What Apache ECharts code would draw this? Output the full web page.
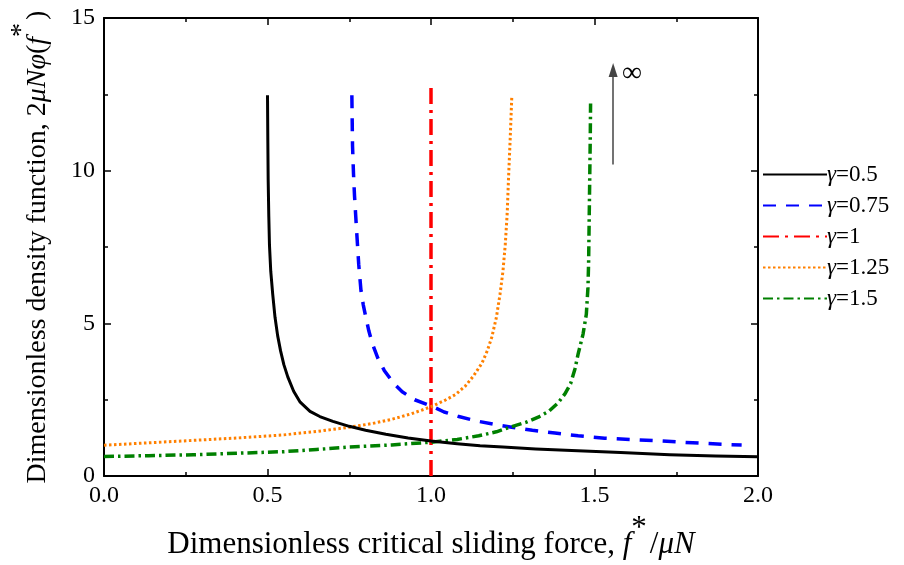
<!DOCTYPE html>
<html>
<head>
<meta charset="utf-8">
<script src="https://cdn.jsdelivr.net/npm/echarts@6/dist/echarts.min.js"></script>
<style>html,body{margin:0;padding:0;background:#fff}#c{width:904px;height:565px}</style>
</head>
<body>
<div id="c"></div>
<script>
// ---- data ----
var seriesNames = ['γ=0.5', 'γ=0.75', 'γ=1', 'γ=1.25', 'γ=1.5'];
var xTicks = [0, 0.5, 1.0, 1.5, 2.0];
var yTicks = [0, 5, 10, 15];

var gamma050 = [[0.5,12.47],[0.501,11.0],[0.502,9.74],[0.504,8.5],[0.506,7.57],[0.51,6.7],[0.516,5.95],[0.523,5.2],[0.531,4.6],[0.54,4.1],[0.55,3.65],[0.562,3.25],[0.58,2.78],[0.6,2.42],[0.63,2.12],[0.66,1.95],[0.7,1.79],[0.75,1.63],[0.8,1.5],[0.862,1.37],[0.93,1.25],[1.0,1.15],[1.08,1.06],[1.15,0.99],[1.22,0.95],[1.32,0.89],[1.43,0.84],[1.58,0.77],[1.73,0.70],[1.87,0.66],[2.0,0.63]];
var gamma075 = [[0.758,12.47],[0.76,10.82],[0.763,9.9],[0.766,9.2],[0.772,8.12],[0.779,6.93],[0.786,6.06],[0.793,5.6],[0.801,5.19],[0.81,4.75],[0.821,4.33],[0.838,3.85],[0.857,3.46],[0.885,3.05],[0.912,2.76],[0.95,2.5],[1.0,2.30],[1.04,2.1],[1.085,1.95],[1.146,1.79],[1.2,1.68],[1.247,1.60],[1.31,1.5],[1.379,1.41],[1.45,1.32],[1.531,1.24],[1.61,1.2],[1.69,1.16],[1.8,1.09],[1.916,1.03],[1.95,1.02]];
var gamma100 = [[1.0,0],[1.0,12.72]];
var gamma125 = [[0,1.01],[0.137,1.09],[0.274,1.17],[0.41,1.25],[0.55,1.35],[0.65,1.46],[0.75,1.60],[0.82,1.72],[0.88,1.86],[0.94,2.04],[1.0,2.27],[1.044,2.49],[1.075,2.67],[1.105,2.95],[1.13,3.28],[1.156,3.7],[1.172,4.1],[1.186,4.55],[1.2,5.2],[1.211,5.95],[1.22,6.7],[1.227,7.57],[1.233,8.6],[1.237,9.74],[1.242,11.0],[1.247,12.4]];
var gamma150 = [[0,0.64],[0.137,0.67],[0.274,0.70],[0.41,0.75],[0.55,0.80],[0.65,0.87],[0.75,0.95],[0.88,1.02],[1.0,1.11],[1.08,1.2],[1.146,1.32],[1.2,1.45],[1.247,1.62],[1.29,1.76],[1.328,1.93],[1.36,2.12],[1.389,2.40],[1.41,2.7],[1.427,3.03],[1.44,3.5],[1.45,4.0],[1.465,4.65],[1.475,5.30],[1.48,6.17],[1.482,7.0],[1.483,7.79],[1.485,9.42],[1.487,11.04],[1.488,12.2]];
var arrowFrom = [1.557, 10.2];
var arrowTo = [1.557, 13.3];

var FONT = '"Liberation Serif", "Times New Roman", serif';
var chart = echarts.init(document.getElementById('c'), null, {renderer: 'canvas'});

function axisCommon(extra) {
  var base = {
    type: 'value',
    axisLine: {show: true, onZero: false, lineStyle: {color: '#000', width: 2}},
    axisTick: {show: true, inside: true, length: 7, lineStyle: {color: '#000', width: 1.5}},
    minorTick: {show: true, splitNumber: 2, length: 4, lineStyle: {color: '#000', width: 1.5}},
    splitLine: {show: false},
    axisLabel: {show: false}
  };
  return Object.assign(base, extra);
}

var xr = {min: xTicks[0], max: xTicks[xTicks.length-1], interval: xTicks[1]-xTicks[0]};
var yr = {min: yTicks[0], max: yTicks[yTicks.length-1], interval: yTicks[1]-yTicks[0]};

function makeRich(fs) {
  return {
    n: {fontFamily: FONT, fontSize: fs, color: '#000', lineHeight: fs + 2, verticalAlign: 'bottom'},
    i: {fontFamily: FONT, fontSize: fs, fontStyle: 'italic', color: '#000', lineHeight: fs + 2, verticalAlign: 'bottom'},
    s: {fontFamily: FONT, fontSize: fs, color: '#000', lineHeight: fs + 2, verticalAlign: 'bottom', padding: [0, 3, 16, 0]}
  };
}

var lineSeries = function(name, data, color, width, type, z) {
  return {
    name: name, type: 'line', data: data, showSymbol: false, symbol: 'none', symbolSize: 0,
    smooth: false, z: z || 2,
    lineStyle: {color: color, width: width, type: type, cap: 'butt', join: 'round'},
    itemStyle: {color: color}
  };
};

var s1 = lineSeries(seriesNames[0], gamma050, '#000000', 3, 'solid', 3);
s1.markLine = {
  silent: true, symbol: ['none', 'triangle'], symbolSize: [9, 14],
  label: {show: false},
  lineStyle: {color: '#444', width: 1.5, type: 'solid'},
  data: [[{coord: arrowFrom}, {coord: arrowTo}]]
};
var s2 = lineSeries(seriesNames[1], gamma075, '#0000FF', 3.5, [13, 10]);
var s3 = lineSeries(seriesNames[2], gamma100, '#FF0000', 3.5, [16, 6, 3, 6]);
var s4 = lineSeries(seriesNames[3], gamma125, '#FF8000', 3, [2.5, 2.5]);
var s5 = lineSeries(seriesNames[4], gamma150, '#008000', 3.5, [10, 4, 2.5, 4]);

chart.setOption({
  animation: false,
  backgroundColor: '#fff',
  textStyle: {fontFamily: FONT},
  grid: {left: 100, right: 146, top: 18, bottom: 84, containLabel: false},
  legend: {
    orient: 'vertical', left: 757, top: 158, itemWidth: 64, itemHeight: 14, itemGap: 8,
    data: seriesNames,
    itemStyle: {opacity: 0},
    textStyle: {fontFamily: FONT, fontSize: 23, color: '#000', padding: [0, 0, 0, -5],
      rich: {g: {fontFamily: FONT, fontSize: 23, fontStyle: 'italic', color: '#000'}}},
    formatter: function(n) { return '{g|γ}' + n.slice(1); }
  },
  xAxis: [
    axisCommon(Object.assign({position: 'bottom',
      axisLabel: {show: true, fontFamily: FONT, fontSize: 24, color: '#000', margin: 8, formatter: function(v){return v.toFixed(1);}},
      name: '{n|Dimensionless critical sliding force, }{i|f}{s|*}{n|/}{i|μN}',
      nameLocation: 'middle', nameGap: 41,
      nameTextStyle: {rich: makeRich(31)}
    }, xr)),
    axisCommon(Object.assign({position: 'top'}, xr))
  ],
  yAxis: [
    axisCommon(Object.assign({position: 'left',
      axisLabel: {show: true, fontFamily: FONT, fontSize: 24, color: '#000', margin: 9},
      name: '{n|Dimensionless density function, 2}{i|μNφ}{n|(}{i|f}{s|*}{n|)}',
      nameLocation: 'middle', nameGap: 52, nameRotate: 90,
      nameTextStyle: {rich: makeRich(28)}
    }, yr)),
    axisCommon(Object.assign({position: 'right'}, yr))
  ],
  graphic: [{type: 'text', left: 622, top: 60, style: {text: '∞', font: '28px ' + FONT, fill: '#000'}}],
  series: [s1, s2, s3, s4, s5]
});
</script>
</body>
</html>
